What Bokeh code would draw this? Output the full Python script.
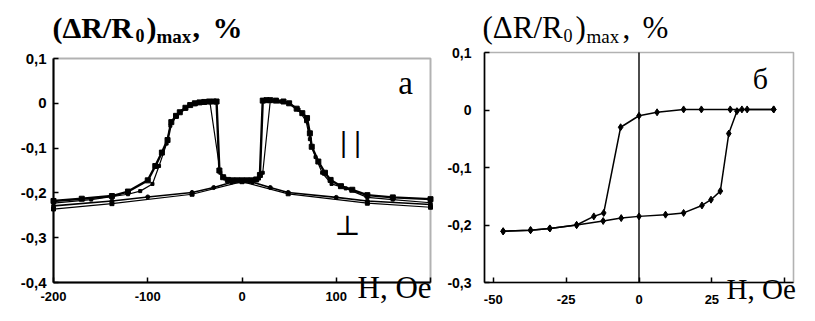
from bokeh.plotting import figure
from bokeh.layouts import row
from bokeh.models import (FixedTicker, CustomJSTickFormatter, Label, Range1d, LinearAxis,
                          BoxAnnotation)
from bokeh.embed import file_html
from bokeh.resources import INLINE

# ---------------- data: panel a (field H, Oe ; (dR/R0)max, %) ----------------
par1_h = [-200, -170, -138, -121, -100, -92, -85, -79, -75, -70, -66, -60, -55, -50, -45, -40,
          -35, -30, -27, -24, -20, -15, -10, -5, 0, 5, 10, 15, 19, 22, 26, 30, 36, 44, 50, 58,
          64, 69, 72, 74, 81, 88, 94, 105, 117, 133, 160, 200]
par1_r = [-0.218, -0.213, -0.207, -0.197, -0.172, -0.14, -0.11, -0.082, -0.042, -0.028, -0.02,
          -0.01, -0.004, 0.0, 0.002, 0.003, 0.004, 0.004, 0.004, -0.15, -0.165, -0.171, -0.172,
          -0.172, -0.172, -0.172, -0.172, -0.17, -0.16, 0.006, 0.007, 0.007, 0.006, 0.004, 0.0,
          -0.012, -0.022, -0.033, -0.067, -0.097, -0.13, -0.155, -0.171, -0.185, -0.193, -0.205,
          -0.210, -0.214]
par2_h = [-200, -160, -121, -108, -95, -88, -80, -76, -70, -60, -50, -40, -34, -23, -18, -10, 0,
          10, 18, 22, 30, 40, 50, 60, 68, 72, 78, 85, 95, 110, 133, 160, 200]
par2_r = [-0.223, -0.215, -0.203, -0.196, -0.18, -0.14, -0.09, -0.05, -0.03, -0.012, -0.002,
          0.002, 0.002, -0.155, -0.168, -0.172, -0.172, -0.172, -0.168, -0.155, 0.005, 0.004, 0.0,
          -0.014, -0.04, -0.08, -0.12, -0.155, -0.18, -0.19, -0.21, -0.215, -0.222]
perp1_h = [-200, -138, -100, -53, -30, -11, 0, 11, 30, 49, 100, 133, 200]
perp1_r = [-0.229, -0.218, -0.209, -0.199, -0.188, -0.176, -0.172, -0.176, -0.188, -0.199, -0.21,
           -0.218, -0.226]
perp2_h = [-200, -138, -53, 0, 49, 133, 200]
perp2_r = [-0.236, -0.224, -0.203, -0.175, -0.202, -0.223, -0.232]

# ---------------- data: panel b ----------------
up_h = [-46.6, -37.2, -30.6, -21.4, -12.3, -6.1, 0, 9.1, 15.3, 21.6, 24.7, 27.9, 30.8, 33.6,
        35.3, 37.1, 46.2]
up_r = [-0.211, -0.209, -0.206, -0.2, -0.193, -0.188, -0.185, -0.182, -0.179, -0.166, -0.156,
        -0.141, -0.041, -0.002, 0.001, 0.001, 0.001]
down_h = [46.2, 31.3, 21.4, 15.3, 6.2, 0, -6.3, -12.1, -15.5, -21.4, -30.6, -37.2, -46.6]
down_r = [0.001, 0.001, 0.001, 0.001, -0.004, -0.01, -0.03, -0.179, -0.185, -0.2, -0.206,
          -0.209, -0.211]

a_xlim = (-200, 200)
a_ylim = (-0.4, 0.1)
b_xlim = (-53, 53)
b_ylim = (-0.3, 0.1)
a_xticks = [-200, -100, 0, 100, 200]
a_yticks = [0.1, 0, -0.1, -0.2, -0.3, -0.4]
b_xticks = [-50, -25, 0, 25, 50]
b_yticks = [0.1, 0, -0.1, -0.2, -0.3]

YFMT = "if (Math.abs(tick) < 1e-9) return '0'; return tick.toFixed(1).replace('.', ',');"


def make_panel(width, height, box_px, xlim, ylim):
    # box_px = (left, right, top, bottom) of the data box, in the panel's own pixels
    l, r, t, b = box_px
    sx = (xlim[1] - xlim[0]) / (r - l)
    sy = (ylim[1] - ylim[0]) / (b - t)
    xr = Range1d(xlim[0] - l * sx, xlim[1] + (width - r) * sx)
    yr = Range1d(ylim[0] - (height - b) * sy, ylim[1] + t * sy)
    p = figure(width=width, height=height, output_backend="svg", toolbar_location=None,
               x_range=xr, y_range=yr, x_axis_type=None, y_axis_type=None, min_border=0)
    p.outline_line_color = None
    p.background_fill_color = "white"
    p.border_fill_color = "white"
    return p


def add_axes(p, xlim, ylim, xticks, yticks, xhide, ysize, xsize, ystand, xstand, lw):
    xa = LinearAxis(fixed_location=ylim[0], bounds=xlim, ticker=FixedTicker(ticks=xticks),
                    formatter=CustomJSTickFormatter(
                        code="return Math.abs(tick - (%s)) < 1e-6 ? '' : tick.toFixed(0);" % xhide))
    ya = LinearAxis(fixed_location=xlim[0], bounds=ylim, ticker=FixedTicker(ticks=yticks),
                    formatter=CustomJSTickFormatter(code=YFMT))
    for ax in (xa, ya):
        ax.major_tick_in = 5
        ax.major_tick_out = 0
        ax.minor_tick_line_color = None
        ax.axis_line_width = lw
        ax.major_tick_line_width = 1.5
        ax.major_label_text_font = "Liberation Sans"
        ax.major_label_text_font_style = "bold"
        ax.major_label_text_color = "black"
    ya.major_label_text_font_size = ysize
    xa.major_label_text_font_size = xsize
    ya.major_label_standoff = ystand
    xa.major_label_standoff = xstand
    p.add_layout(xa, "below")
    p.add_layout(ya, "left")
    p.add_layout(BoxAnnotation(left=xlim[0], right=xlim[1], bottom=ylim[0], top=ylim[1],
                               fill_alpha=0, line_color="black", line_width=lw))


def lab(p, x, y, t, size, bold=False, font="Liberation Serif", align="left"):
    p.add_layout(Label(x=x, y=y, text=t, text_font=font, text_font_size=size,
                       text_font_style="bold" if bold else "normal", text_color="black",
                       text_align=align, text_baseline="middle"))


# ---------------- panel a ----------------
A_BOX = (53, 430, 58, 282)
pa = make_panel(440, 305, A_BOX, a_xlim, a_ylim)
add_axes(pa, a_xlim, a_ylim, a_xticks, a_yticks, 200, "15px", "13px", 7, 9, 2)

pa.line(perp1_h, perp1_r, line_color="black", line_width=1.6)
pa.line(perp2_h, perp2_r, line_color="black", line_width=1.2)
pa.scatter(perp1_h, perp1_r, marker="circle", size=4, color="black")
pa.scatter(perp2_h, perp2_r, marker="square", size=4, color="black")
pa.line(par2_h, par2_r, line_color="black", line_width=1.2)
pa.scatter(par2_h, par2_r, marker="square", size=3, color="black")
pa.line(par1_h, par1_r, line_color="black", line_width=2.4)
pa.scatter(par1_h, par1_r, marker="square", size=5, color="black")


def ax_(px):
    return a_xlim[0] + (px - A_BOX[0]) / (A_BOX[1] - A_BOX[0]) * (a_xlim[1] - a_xlim[0])


def ay_(py):
    return a_ylim[1] - (py - A_BOX[2]) / (A_BOX[3] - A_BOX[2]) * (a_ylim[1] - a_ylim[0])


# (x of left edge, y of text middle) in picture pixels
for px, py, t, s in [(52, 27, "(ΔR/R", "30px"), (135, 35, "0", "18px"), (146, 27, ")", "30px"),
                     (156, 36, "max", "19px"), (192, 27, ",", "30px"), (212, 27, "%", "30px")]:
    lab(pa, ax_(px), ay_(py), t, s, bold=True)
lab(pa, ax_(405), ay_(82), "а", "33px", align="center")
lab(pa, ax_(350), ay_(141), "| |", "30px", bold=True, align="center")
lab(pa, ax_(347), ay_(225), "⊥", "28px", font="DejaVu Serif", align="center")
lab(pa, ax_(357), ay_(287), "H, Oe", "31px")

# ---------------- panel b ----------------
B_BOX = (44, 353, 52, 282)   # picture x 484..793 minus panel offset 440
pb = make_panel(359, 305, B_BOX, b_xlim, b_ylim)
add_axes(pb, b_xlim, b_ylim, b_xticks, b_yticks, 50, "14px", "13px", 13, 12, 1.6)

pb.segment(x0=[0], y0=[b_ylim[0]], x1=[0], y1=[b_ylim[1]], line_color="black", line_width=1.4)
pb.line(up_h, up_r, line_color="black", line_width=1.5)
pb.scatter(up_h, up_r, marker="diamond", size=7, color="black")
pb.line(down_h, down_r, line_color="black", line_width=1.5)
pb.scatter(down_h, down_r, marker="diamond", size=7, color="black")


def bx_(px):
    px -= 440
    return b_xlim[0] + (px - B_BOX[0]) / (B_BOX[1] - B_BOX[0]) * (b_xlim[1] - b_xlim[0])


def by_(py):
    return b_ylim[1] - (py - B_BOX[2]) / (B_BOX[3] - B_BOX[2]) * (b_ylim[1] - b_ylim[0])


for px, py, t, s in [(482, 27, "(ΔR/R", "31px"), (563, 35, "0", "18px"), (575, 27, ")", "31px"),
                     (586, 36, "max", "19px"), (622, 27, ",", "31px"), (642, 27, "%", "31px")]:
    lab(pb, bx_(px), by_(py), t, s)
lab(pb, bx_(760), by_(78), "б", "30px", align="center")
lab(pb, bx_(726), by_(288), "H, Oe", "29px")

layout = row(pa, pb)
open("out.html", "w").write(file_html(layout, INLINE))
